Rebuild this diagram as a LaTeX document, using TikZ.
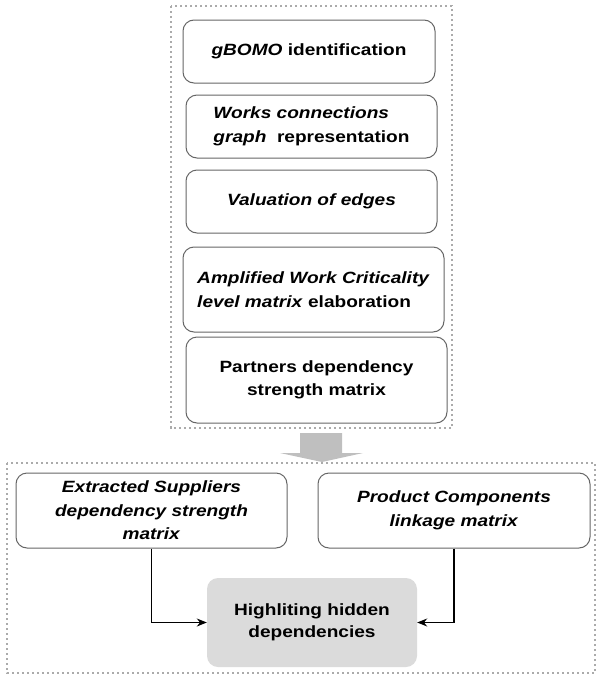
\documentclass[tikz,border=0pt]{standalone}
\usepackage{fontspec}
\setmainfont[FakeStretch=1.17]{Liberation Sans}
\usetikzlibrary{arrows.meta}
\begin{document}
\begin{tikzpicture}[x=1pt,y=-1pt,
  stepbox/.style={draw=black!60,line width=1pt,rounded corners=11pt,inner sep=0pt,
    font=\fontsize{16.3}{23.5}\selectfont\bfseries},
  grp/.style={draw=black!33,line width=2.4pt,dash pattern=on 2.4pt off 2.6pt},
  conn/.style={line width=1.2pt,-{Stealth[length=10pt,width=8pt]}}]
\useasboundingbox (0,0) rectangle (598,675);
% outer groups
\draw[grp] (171,6) rectangle (452,428);
\draw[grp] (7,463) rectangle (595,673);
% top steps
\node[stepbox,minimum width=252pt,minimum height=63pt] (s1) at (309,51.5) {\textit{gBOMO} identification};
\node[stepbox,minimum width=251pt,minimum height=63pt,align=left] (s2) at (311.5,126.5) {\textit{Works connections}\\\textit{graph}~ representation};
\node[stepbox,minimum width=251pt,minimum height=63pt] (s3) at (311.5,201.5) {\textit{Valuation of edges}};
\node[stepbox,minimum width=261pt,minimum height=85pt,align=left] (s4) at (313.5,289.5) {\textit{Amplified Work Criticality}\\\textit{level matrix} elaboration};
\node[stepbox,minimum width=261pt,minimum height=86pt,align=center] (s5) at (316.5,380) {Partners dependency\\strength matrix};
% gray arrow
\fill[black!25] (300,433) -- (342,433) -- (342,453) -- (363,453) -- (322,462) -- (280,453) -- (300,453) -- cycle;
% bottom
\node[stepbox,minimum width=271pt,minimum height=75pt,align=center] (esd) at (151.5,510.5) {\textit{Extracted Suppliers}\\\textit{dependency strength}\\\textit{matrix}};
\node[stepbox,minimum width=272pt,minimum height=75pt,align=center] (pcl) at (454,510.5) {\textit{Product Components}\\\textit{linkage matrix}};
\node[fill=black!14,rounded corners=11pt,inner sep=0pt,minimum width=210pt,minimum height=89pt,align=center,
  font=\fontsize{16.3}{22.5}\selectfont\bfseries] (hhd) at (312,622.5) {Highliting hidden\\dependencies};
\draw[conn] (esd.south) |- (hhd.west);
\draw[conn] (pcl.south) |- (hhd.east);
\end{tikzpicture}
\end{document}
